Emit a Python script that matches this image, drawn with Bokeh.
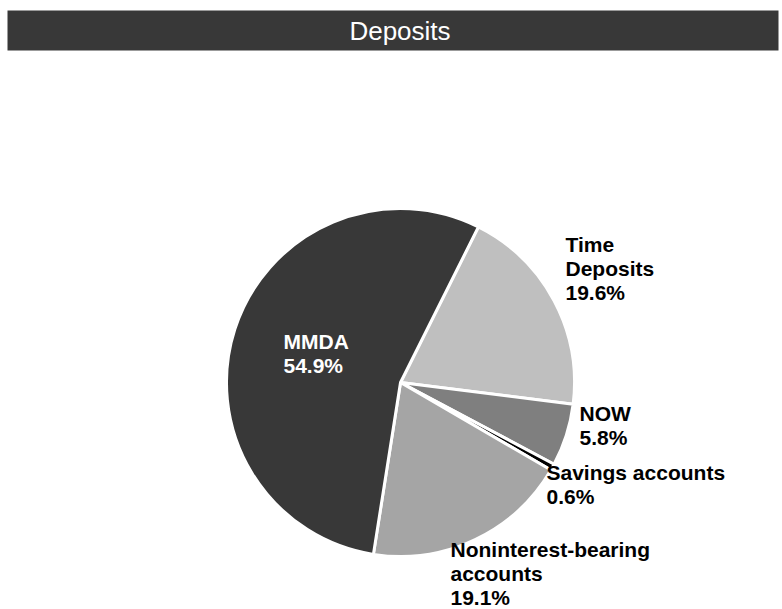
import math
from bokeh.plotting import figure
from bokeh.models import Range1d, ColumnDataSource
from bokeh.core.properties import value
from bokeh.embed import file_html
from bokeh.resources import INLINE

# ---- data ----
categories = ["Time Deposits", "NOW", "Savings accounts",
              "Noninterest-bearing accounts", "MMDA"]
label_lines = [["Time", "Deposits"], ["NOW"], ["Savings accounts"],
               ["Noninterest-bearing", "accounts"], ["MMDA"]]
shares = [19.6, 5.8, 0.6, 19.1, 54.9]
colors = ["#bfbfbf", "#7f7f7f", "#000000", "#a5a5a5", "#383838"]
label_colors = ["black", "black", "black", "black", "white"]
title_text = "Deposits"

# ---- layout / style ----
W, H = 782, 609
CX, CY = 400, 227          # pie centre (plot pixels, y up)
R = 174
START_CW = 26.6            # first slice starts this many degrees clockwise from 12 o'clock
# label offsets (left x, first baseline) relative to centre, in pixels (y down)
label_off = [(165, -130), (179, 39), (146, 98), (50, 175), (-117, -33)]
LINE = 24
TEXT_SHIFT = 8.5           # compensates the renderer's baseline placement
FONT = "Liberation Sans"

p = figure(width=W, height=H, output_backend="svg", toolbar_location=None,
           x_range=Range1d(0, W), y_range=Range1d(0, H),
           min_border=0, min_border_left=0, min_border_right=0,
           min_border_top=0, min_border_bottom=0)
p.axis.visible = False
p.grid.visible = False
p.outline_line_color = None
p.background_fill_color = "white"
p.border_fill_color = "white"

# title bar
p.quad(left=[7], right=[778], top=[H - 10], bottom=[H - 50],
       fill_color="#383838", line_color=None)
p.text(x=[399.5], y=[H - 39 + TEXT_SHIFT], text=[title_text], text_color="white",
       text_font=value(FONT), text_font_size="26px", text_align="center",
       text_baseline="alphabetic")

total = sum(shares)
starts, ends = [], []
cw = START_CW
for s in shares:
    span = s / total * 360.0
    a0 = math.radians(90 - (cw + span))
    a1 = math.radians(90 - cw)
    starts.append(a0)
    ends.append(a1)
    cw += span

src = ColumnDataSource(dict(start=starts, end=ends, color=colors,
                            cat=categories, share=shares))
p.wedge(x=CX, y=CY, radius=R, radius_units="screen",
        start_angle="start", end_angle="end", fill_color="color",
        line_color="white", line_width=3, source=src)

tx, ty, tt, tc = [], [], [], []
for lines, s, (ox, oy), col in zip(label_lines, shares, label_off, label_colors):
    all_lines = lines + [f"{s:.1f}%"]
    for i, ln in enumerate(all_lines):
        tx.append(CX + ox)
        ty.append(CY - oy - i * LINE + TEXT_SHIFT)
        tt.append(ln)
        tc.append(col)
p.text(x=tx, y=ty, text=tt, text_color=tc, text_font=value(FONT),
       text_font_size="21px", text_font_style="bold",
       text_align="left", text_baseline="alphabetic")

open("out.html", "w").write(file_html(p, INLINE))
